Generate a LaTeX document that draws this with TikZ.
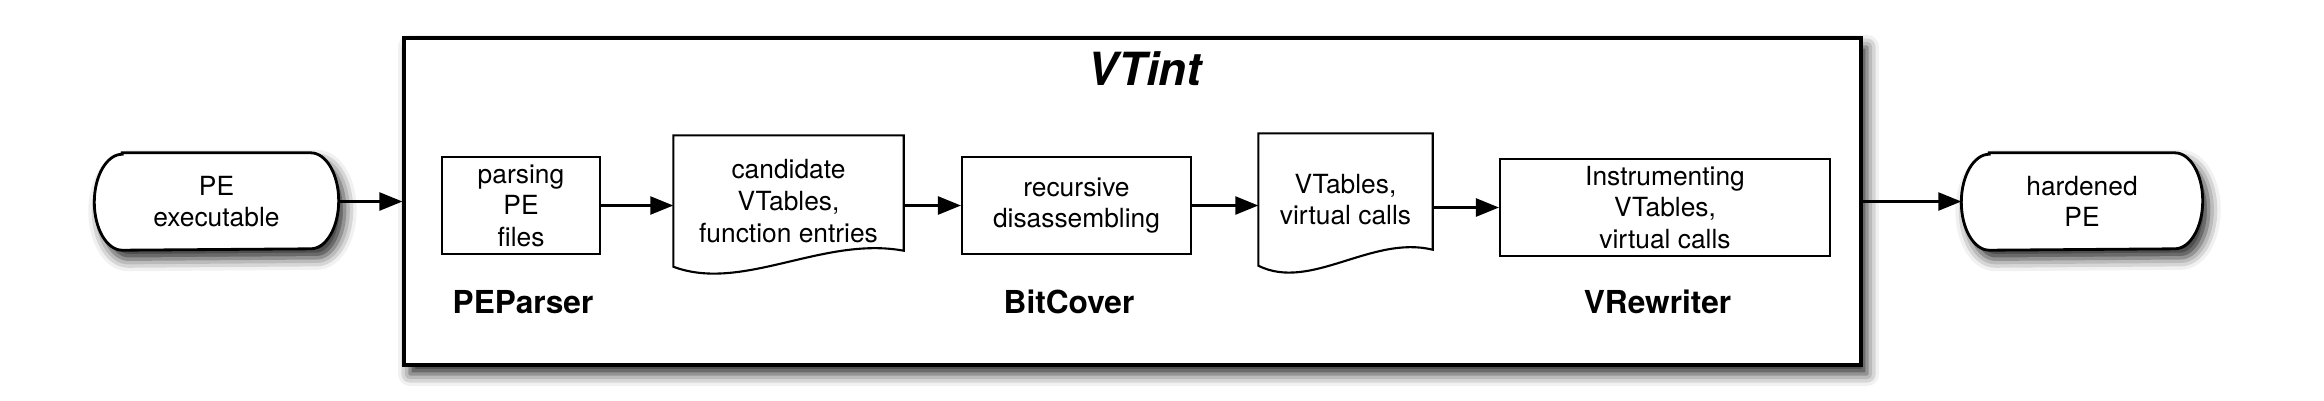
\documentclass[tikz,border=0pt]{standalone}
\usepackage{fontspec}
\setmainfont{TeX Gyre Heros}
\usetikzlibrary{shadows.blur,arrows.meta,calc,backgrounds}

\tikzset{
  txt/.style={font=\fontsize{7.5}{9}\selectfont, align=center},
  softshadow/.style={blur shadow={shadow xshift=0.06cm, shadow yshift=-0.09cm, shadow blur radius=0.12cm, shadow opacity=85}},
  terminal/.style={txt, minimum height=0.96cm, inner sep=1pt},
  stagebox/.style={txt, draw, line width=0.6pt, minimum height=0.97cm, inner sep=1pt},
  docbox/.style={txt, inner sep=1pt},
  tool/.style={font=\bfseries\fontsize{9}{11}\selectfont, anchor=base},
  flow/.style={line width=0.7pt, -{Triangle[length=2.3mm,width=1.8mm]}},
}
\newcommand{\docoutline}[1]{%
  \draw[line width=0.6pt] (#1.south west) -- (#1.north west) -- (#1.north east) -- ([yshift=1.6mm]#1.south east)
    .. controls ($(#1.south west)!0.65!(#1.south east)+(0,3.1mm)$) and ($(#1.south west)!0.3!(#1.south east)+(0,-2.6mm)$) .. (#1.south west) -- cycle;}
\newcommand{\termoutline}[1]{%
  \draw[line width=0.8pt, fill=white, softshadow] ([xshift=2.8mm]#1.north west) -- ([xshift=-2.8mm]#1.north east)
    arc[start angle=90, end angle=-90, x radius=2.8mm, y radius=4.8mm] -- ([xshift=2.8mm]#1.south west)
    arc[start angle=270, end angle=90, x radius=2.8mm, y radius=4.8mm] -- cycle;}

\begin{document}
\begin{tikzpicture}
    \useasboundingbox (0,0) rectangle (23.24,4);
    % outer frame
    \node[draw, line width=0.9pt, fill=white, minimum width=14.57cm, minimum height=3.27cm, softshadow] (vtint) at (11.325,1.985) {};
    \node[font=\bfseries\itshape\fontsize{13}{15}\selectfont, anchor=base] (title) at (11.445,3.15) {VTint};
    % input and output
    \node[terminal, minimum width=2.43cm] (pe) at (2.165,1.985) {PE\\executable};
    \node[terminal, minimum width=2.40cm] (hard) at (20.82,1.985) {hardened\\PE};
    \begin{scope}[on background layer]
        \termoutline{pe}
        \termoutline{hard}
    \end{scope}
    % stages
    \node[stagebox, minimum width=1.58cm] (parse) at (5.21,1.945) {parsing\\PE\\files};
    \node[docbox, minimum width=2.29cm, minimum height=1.30cm] (cand) at (7.885,1.99) {candidate\\VTables,\\function entries};
    \node[stagebox, minimum width=2.29cm] (rec) at (10.765,1.945) {recursive\\disassembling};
    \node[docbox, minimum width=1.73cm, minimum height=1.31cm] (vtab) at (13.455,2.005) {VTables,\\virtual calls};
    \node[stagebox, minimum width=3.30cm] (instr) at (16.65,1.925) {Instrumenting\\VTables,\\virtual calls};
    \docoutline{cand}
    \docoutline{vtab}
    % tool names
    \node[tool] (peparser) at (5.23,0.87) {PEParser};
    \node[tool] (bitcover) at (10.69,0.87) {BitCover};
    \node[tool] (vrewriter) at (16.575,0.87) {VRewriter};
    % arrows
    \draw[flow] (pe.east) -- (vtint.west);
    \draw[flow] (vtint.east) -- (hard.west);
    \draw[flow] (parse.east) -- (parse.east -| cand.west);
    \draw[flow] (cand.east |- rec.west) -- (rec.west);
    \draw[flow] (rec.east) -- (rec.east -| vtab.west);
    \draw[flow] (vtab.east |- instr.west) -- (instr.west);
\end{tikzpicture}
\end{document}
